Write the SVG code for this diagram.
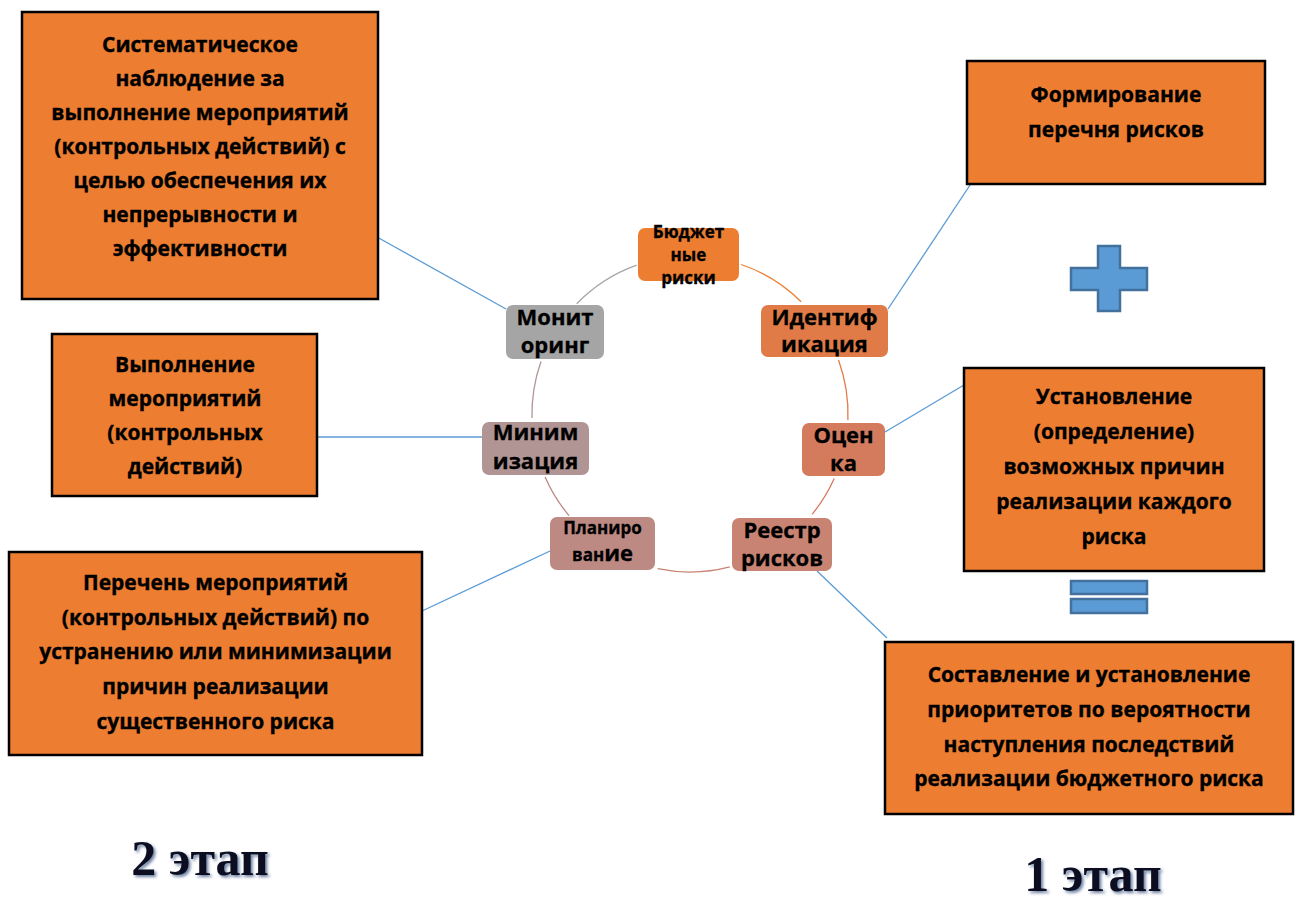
<svg xmlns="http://www.w3.org/2000/svg" width="1296" height="897" viewBox="0 0 1296 897">
<style>
.box{fill:#ED7D31;stroke:#000;stroke-width:2.5}
.bt{font-family:"Open Sans","Liberation Sans",sans-serif;font-weight:bold;font-size:21px;fill:#000;stroke:#000;stroke-width:0.35;text-anchor:middle}
.nt{font-family:"Open Sans","Liberation Sans",sans-serif;font-weight:bold;font-size:22px;fill:#000;stroke:#000;stroke-width:0.3;text-anchor:middle}
.st{font-size:17px}
.con{stroke:#5B9BD5;stroke-width:1.3;fill:none}
.arc{fill:none;stroke-width:1.3}
.sym{fill:#5B9BD5;stroke:#41719C;stroke-width:2.5}
.stage{font-family:"Liberation Serif","Times New Roman",serif;font-weight:bold;font-size:50px;fill:#0b1020;text-anchor:middle}
</style>
<defs>
<filter id="sh" x="-20%" y="-30%" width="140%" height="160%">
<feDropShadow dx="2" dy="2" stdDeviation="1.6" flood-color="#2e4a7a" flood-opacity="0.7"/>
</filter>
</defs>
<rect width="1296" height="897" fill="#fff"/>

<g id="ring">
<path class="arc" stroke="#ED7D31" d="M741.2,264.5 A158,158 0 0 1 801.1,301.7"/>
<path class="arc" stroke="#E07B47" d="M838.5,360 A158,158 0 0 1 847.9,420.1"/>
<path class="arc" stroke="#D47B5E" d="M834.2,478.5 A158,158 0 0 1 812.1,514.3"/>
<path class="arc" stroke="#C88372" d="M729.8,566.9 A158,158 0 0 1 657.7,568.7"/>
<path class="arc" stroke="#BC8A83" d="M569,515.6 A158,158 0 0 1 545.1,477"/>
<path class="arc" stroke="#B19494" d="M532,418.1 A158,158 0 0 1 541,361.5"/>
<path class="arc" stroke="#A5A5A5" d="M576.7,303.8 A158,158 0 0 1 636.7,265.2"/>
</g>

<g id="connectors">
<line class="con" x1="377" y1="237" x2="506" y2="309"/>
<line class="con" x1="980" y1="170" x2="888" y2="309"/>
<line class="con" x1="969" y1="382" x2="885" y2="432"/>
<line class="con" x1="317" y1="437" x2="482" y2="437"/>
<line class="con" x1="422" y1="611" x2="550" y2="551"/>
<line class="con" x1="817" y1="571" x2="887" y2="638"/>
</g>

<g id="n-budget">
<rect x="638" y="228" width="101" height="53" rx="7" fill="#ED7D31"/>
<text class="nt st" x="688.5" y="238">Бюджет</text>
<text class="nt st" x="688.5" y="261">ные</text>
<text class="nt st" x="688.5" y="284">риски</text>
</g>
<g id="n-ident">
<rect x="761" y="305" width="127" height="52" rx="7" fill="#E07B47"/>
<text class="nt" x="824.5" y="325">Идентиф</text>
<text class="nt" x="824.5" y="352">икация</text>
</g>
<g id="n-ocenka">
<rect x="802" y="423" width="83" height="53" rx="7" fill="#D47B5E"/>
<text class="nt" x="843.5" y="443">Оцен</text>
<text class="nt" x="843.5" y="471">ка</text>
</g>
<g id="n-reestr">
<rect x="732" y="518" width="100" height="53" rx="7" fill="#C88372"/>
<text class="nt" x="782" y="538">Реестр</text>
<text class="nt" x="782" y="566">рисков</text>
</g>
<g id="n-plan">
<rect x="550" y="517" width="105" height="53" rx="7" fill="#BC8A83"/>
<text class="nt st" x="602.5" y="534">Планиро</text>
<text class="nt" x="602.5" y="561"><tspan font-size="17px">ван</tspan>ие</text>
</g>
<g id="n-minim">
<rect x="482" y="422" width="107" height="53" rx="7" fill="#B19494"/>
<text class="nt" x="535.5" y="440">Миним</text>
<text class="nt" x="535.5" y="469">изация</text>
</g>
<g id="n-monit">
<rect x="506" y="305" width="98" height="54" rx="7" fill="#A5A5A5"/>
<text class="nt" x="555" y="325">Монит</text>
<text class="nt" x="555" y="353">оринг</text>
</g>

<g id="b-monitoring">
<rect class="box" x="22" y="12" width="356" height="287"/>
<text class="bt" x="200" y="52">Систематическое</text>
<text class="bt" x="200" y="86">наблюдение за</text>
<text class="bt" x="200" y="120">выполнение мероприятий</text>
<text class="bt" x="200" y="154">(контрольных действий) с</text>
<text class="bt" x="200" y="188">целью обеспечения их</text>
<text class="bt" x="200" y="222">непрерывности и</text>
<text class="bt" x="200" y="256">эффективности</text>
</g>
<g id="b-form">
<rect class="box" x="967" y="61" width="298" height="123"/>
<text class="bt" x="1116" y="102">Формирование</text>
<text class="bt" x="1116" y="137">перечня рисков</text>
</g>
<g id="b-vypoln">
<rect class="box" x="52" y="334" width="265" height="162"/>
<text class="bt" x="185" y="372">Выполнение</text>
<text class="bt" x="185" y="406">мероприятий</text>
<text class="bt" x="185" y="440">(контрольных</text>
<text class="bt" x="185" y="474">действий)</text>
</g>
<g id="b-perechen">
<rect class="box" x="9" y="552" width="413" height="203"/>
<text class="bt" x="215.5" y="590">Перечень мероприятий</text>
<text class="bt" x="215.5" y="625">(контрольных действий) по</text>
<text class="bt" x="215.5" y="659">устранению или минимизации</text>
<text class="bt" x="215.5" y="694">причин реализации</text>
<text class="bt" x="215.5" y="729">существенного риска</text>
</g>
<g id="b-ustanov">
<rect class="box" x="964" y="368" width="300" height="203"/>
<text class="bt" x="1114" y="404">Установление</text>
<text class="bt" x="1114" y="439">(определение)</text>
<text class="bt" x="1114" y="474">возможных причин</text>
<text class="bt" x="1114" y="509">реализации каждого</text>
<text class="bt" x="1114" y="544">риска</text>
</g>
<g id="b-sostav">
<rect class="box" x="885" y="642" width="408" height="172"/>
<text class="bt" x="1089" y="682">Составление и установление</text>
<text class="bt" x="1089" y="717">приоритетов по вероятности</text>
<text class="bt" x="1089" y="752">наступления последствий</text>
<text class="bt" x="1089" y="786">реализации бюджетного риска</text>
</g>

<g id="plus">
<path class="sym" d="M1098,246 H1120 V268 H1147 V290 H1120 V311 H1098 V290 H1071 V268 H1098 Z"/>
</g>
<g id="equals">
<rect class="sym" x="1071" y="581" width="76" height="13"/>
<rect class="sym" x="1071" y="599" width="76" height="14"/>
</g>

<text class="stage" x="200" y="875" filter="url(#sh)">2 этап</text>
<text class="stage" x="1093" y="891" filter="url(#sh)">1 этап</text>
</svg>
